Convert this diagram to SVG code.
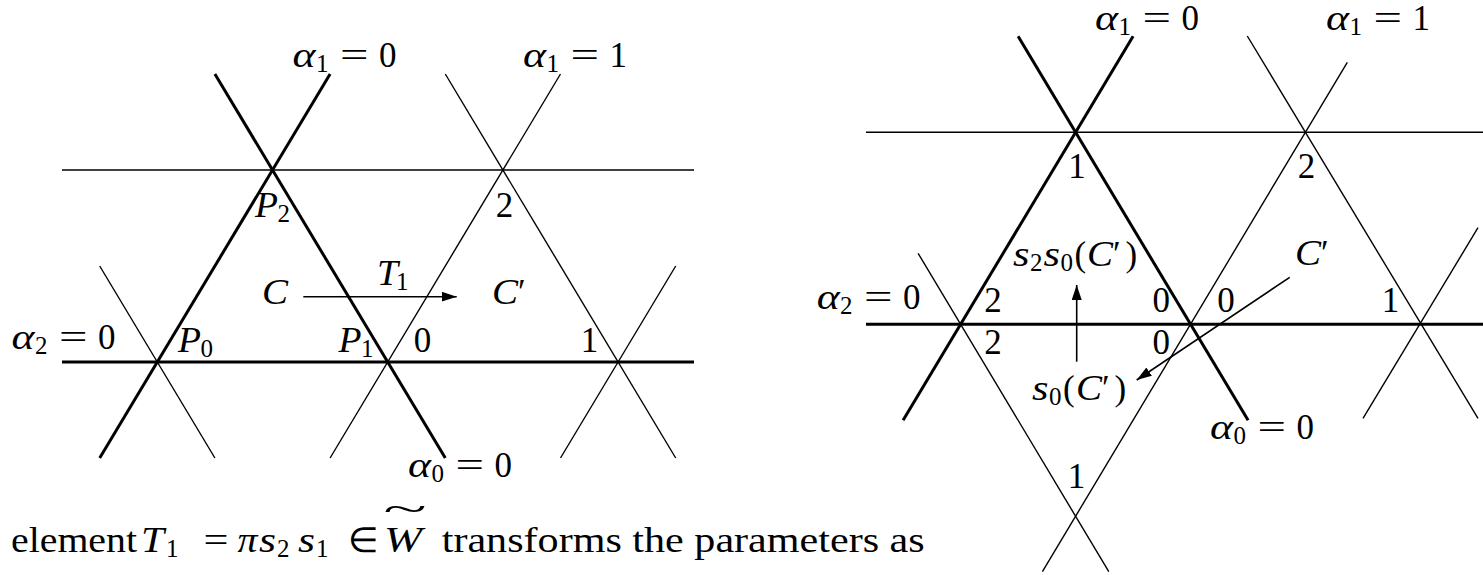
<svg xmlns="http://www.w3.org/2000/svg" width="1483" height="575" viewBox="0 0 1483 575" font-family="Liberation Serif" font-size="35">
<defs>
<style>
.thick{stroke:#000;stroke-width:3;fill:none}
.thin{stroke:#000;stroke-width:1.4;fill:none}
.arr{stroke:#000;stroke-width:1.6;fill:none}
text{font-family:'Liberation Serif',serif;font-size:35px;fill:#000}
.i{font-style:italic}
.s{font-size:25px}
</style>
<marker id="ah" viewBox="0 0 15 10" refX="15" refY="5" markerWidth="15" markerHeight="10" markerUnits="userSpaceOnUse" orient="auto">
<path d="M0,0 L15,5 L0,10 z" fill="#000"/>
</marker>
</defs>
<rect width="1483" height="575" fill="#fff"/>

<!-- LEFT DIAGRAM -->
<g id="left-lattice">
<line class="thin" x1="62" y1="170" x2="694" y2="170"/>
<line class="thin" x1="99.7" y1="266" x2="214.9" y2="458"/>
<line class="thin" x1="330.1" y1="458" x2="560.5" y2="74"/>
<line class="thin" x1="445.3" y1="74" x2="675.7" y2="458"/>
<line class="thin" x1="560.5" y1="458" x2="675.7" y2="266"/>
<line class="thick" x1="62" y1="362" x2="694" y2="362"/>
<line class="thick" x1="99.7" y1="458" x2="330.1" y2="74"/>
<line class="thick" x1="214.9" y1="74" x2="445.3" y2="458"/>
</g>
<g id="left-connectors">
<line class="arr" x1="303.3" y1="296.7" x2="456.7" y2="296.7" marker-end="url(#ah)"/>
</g>
<g id="left-labels">
<g id="l-alpha1-0"><text class="i" x="292.6" y="67" textLength="23" lengthAdjust="spacingAndGlyphs">α</text><text class="s" x="316" y="72">1</text><text x="340" y="67" textLength="28.5" lengthAdjust="spacingAndGlyphs">=</text><text x="379" y="67">0</text></g>
<g id="l-alpha1-1"><text class="i" x="523" y="67" textLength="23" lengthAdjust="spacingAndGlyphs">α</text><text class="s" x="546.4" y="72">1</text><text x="570.4" y="67" textLength="28.5" lengthAdjust="spacingAndGlyphs">=</text><text x="609.4" y="67">1</text></g>
<g id="l-alpha2-0"><text class="i" x="11.5" y="348.5" textLength="23" lengthAdjust="spacingAndGlyphs">α</text><text class="s" x="34.9" y="353.5">2</text><text x="58.9" y="348.5" textLength="28.5" lengthAdjust="spacingAndGlyphs">=</text><text x="97.9" y="348.5">0</text></g>
<g id="l-alpha0-0"><text class="i" x="408" y="477" textLength="23" lengthAdjust="spacingAndGlyphs">α</text><text class="s" x="431.4" y="482">0</text><text x="455.4" y="477" textLength="28.5" lengthAdjust="spacingAndGlyphs">=</text><text x="494.4" y="477">0</text></g>
<g id="l-P2"><text class="i" x="255" y="217" textLength="23" lengthAdjust="spacingAndGlyphs">P</text><text class="s" x="277.5" y="222">2</text></g>
<g id="l-P0"><text class="i" x="178" y="352" textLength="23" lengthAdjust="spacingAndGlyphs">P</text><text class="s" x="200.5" y="357">0</text></g>
<g id="l-P1"><text class="i" x="338.5" y="352" textLength="23" lengthAdjust="spacingAndGlyphs">P</text><text class="s" x="361" y="357">1</text></g>
<g id="l-2"><text x="504.5" y="217" text-anchor="middle">2</text></g>
<g id="l-0"><text x="422.4" y="352" text-anchor="middle">0</text></g>
<g id="l-1"><text x="589.5" y="352" text-anchor="middle">1</text></g>
<g id="l-C"><text class="i" x="262" y="304" textLength="26" lengthAdjust="spacingAndGlyphs">C</text></g>
<g id="l-T1"><text class="i" x="377" y="285" textLength="21" lengthAdjust="spacingAndGlyphs">T</text><text class="s" x="396" y="290">1</text></g>
<g id="l-Cp"><text class="i" x="492" y="304" textLength="26" lengthAdjust="spacingAndGlyphs">C</text><text x="518" y="304">′</text></g>
</g>

<!-- RIGHT DIAGRAM -->
<g id="right-lattice">
<line class="thin" x1="866" y1="132.3" x2="1483" y2="132.3"/>
<line class="thin" x1="918.1" y1="253.3" x2="1108.8" y2="571.7"/>
<line class="thin" x1="1042.4" y1="571.7" x2="1347.3" y2="62.3"/>
<line class="thin" x1="1247.3" y1="36" x2="1478" y2="418.3"/>
<line class="thin" x1="1363" y1="418.3" x2="1478" y2="227.7"/>
<line class="thick" x1="866" y1="324.3" x2="1483" y2="324.3"/>
<line class="thick" x1="903.1" y1="420.3" x2="1133.1" y2="36.3"/>
<line class="thick" x1="1018.1" y1="36.3" x2="1248.1" y2="420.3"/>
</g>
<g id="right-connectors">
<line class="arr" x1="1076.7" y1="361.7" x2="1076.7" y2="285" marker-end="url(#ah)"/>
<line class="arr" x1="1289.7" y1="277.3" x2="1136.7" y2="380" marker-end="url(#ah)"/>
</g>
<g id="right-labels">
<g id="r-alpha1-0"><text class="i" x="1095" y="30" textLength="23" lengthAdjust="spacingAndGlyphs">α</text><text class="s" x="1118.4" y="35">1</text><text x="1142.4" y="30" textLength="28.5" lengthAdjust="spacingAndGlyphs">=</text><text x="1181.4" y="30">0</text></g>
<g id="r-alpha1-1"><text class="i" x="1326" y="30" textLength="23" lengthAdjust="spacingAndGlyphs">α</text><text class="s" x="1349.4" y="35">1</text><text x="1373.4" y="30" textLength="28.5" lengthAdjust="spacingAndGlyphs">=</text><text x="1412.4" y="30">1</text></g>
<g id="r-alpha2-0"><text class="i" x="816.7" y="309" textLength="23" lengthAdjust="spacingAndGlyphs">α</text><text class="s" x="840.1" y="314">2</text><text x="864.1" y="309" textLength="28.5" lengthAdjust="spacingAndGlyphs">=</text><text x="903.1" y="309">0</text></g>
<g id="r-alpha0-0"><text class="i" x="1210" y="439" textLength="23" lengthAdjust="spacingAndGlyphs">α</text><text class="s" x="1233.4" y="444">0</text><text x="1257.4" y="439" textLength="28.5" lengthAdjust="spacingAndGlyphs">=</text><text x="1296.4" y="439">0</text></g>
<g id="r-1a"><text x="1077" y="178" text-anchor="middle">1</text></g>
<g id="r-2a"><text x="1306.5" y="178" text-anchor="middle">2</text></g>
<g id="r-2b"><text x="993" y="311.7" text-anchor="middle">2</text></g>
<g id="r-2c"><text x="993" y="354.3" text-anchor="middle">2</text></g>
<g id="r-0a"><text x="1161.3" y="311.7" text-anchor="middle">0</text></g>
<g id="r-0b"><text x="1161.3" y="354.3" text-anchor="middle">0</text></g>
<g id="r-0c"><text x="1226" y="311.7" text-anchor="middle">0</text></g>
<g id="r-1b"><text x="1390.5" y="311.7" text-anchor="middle">1</text></g>
<g id="r-1c"><text x="1076.5" y="488" text-anchor="middle">1</text></g>
<g id="r-s2s0C"><text class="i" x="1013" y="266" textLength="16.5" lengthAdjust="spacingAndGlyphs">s</text><text class="s" x="1030" y="271">2</text><text class="i" x="1043.5" y="266" textLength="16.5" lengthAdjust="spacingAndGlyphs">s</text><text class="s" x="1060.5" y="271">0</text><text x="1074.5" y="266">(</text><text class="i" x="1087" y="266" textLength="26" lengthAdjust="spacingAndGlyphs">C</text><text x="1113" y="266">′</text><text x="1125.5" y="266">)</text></g>
<g id="r-s0C"><text class="i" x="1032" y="400" textLength="16.5" lengthAdjust="spacingAndGlyphs">s</text><text class="s" x="1049" y="405">0</text><text x="1063" y="400">(</text><text class="i" x="1076" y="400" textLength="26" lengthAdjust="spacingAndGlyphs">C</text><text x="1102" y="400">′</text><text x="1114.5" y="400">)</text></g>
<g id="r-Cp"><text class="i" x="1295" y="265" textLength="26" lengthAdjust="spacingAndGlyphs">C</text><text x="1321" y="265">′</text></g>
</g>

<!-- BODY TEXT -->
<g id="caption">
<text x="11" y="552" textLength="126" lengthAdjust="spacingAndGlyphs">element</text>
<text class="i" x="141" y="552" textLength="23" lengthAdjust="spacingAndGlyphs">T</text><text class="s" x="166" y="557">1</text>
<text x="203.6" y="552" textLength="25" lengthAdjust="spacingAndGlyphs">=</text>
<text class="i" x="237.5" y="552" textLength="20" lengthAdjust="spacingAndGlyphs">π</text>
<text class="i" x="259" y="552" textLength="17" lengthAdjust="spacingAndGlyphs">s</text><text class="s" x="277" y="557">2</text>
<text class="i" x="298" y="552" textLength="17" lengthAdjust="spacingAndGlyphs">s</text><text class="s" x="316" y="557">1</text>
<text x="348" y="552">∈</text>
<text class="i" x="384" y="552" textLength="38" lengthAdjust="spacingAndGlyphs">W</text>
<text x="0" y="0" transform="translate(405,521) scale(2.3,1)" text-anchor="middle">~</text>
<text x="441.7" y="552" textLength="483" lengthAdjust="spacingAndGlyphs">transforms the parameters as</text>
</g>
</svg>
